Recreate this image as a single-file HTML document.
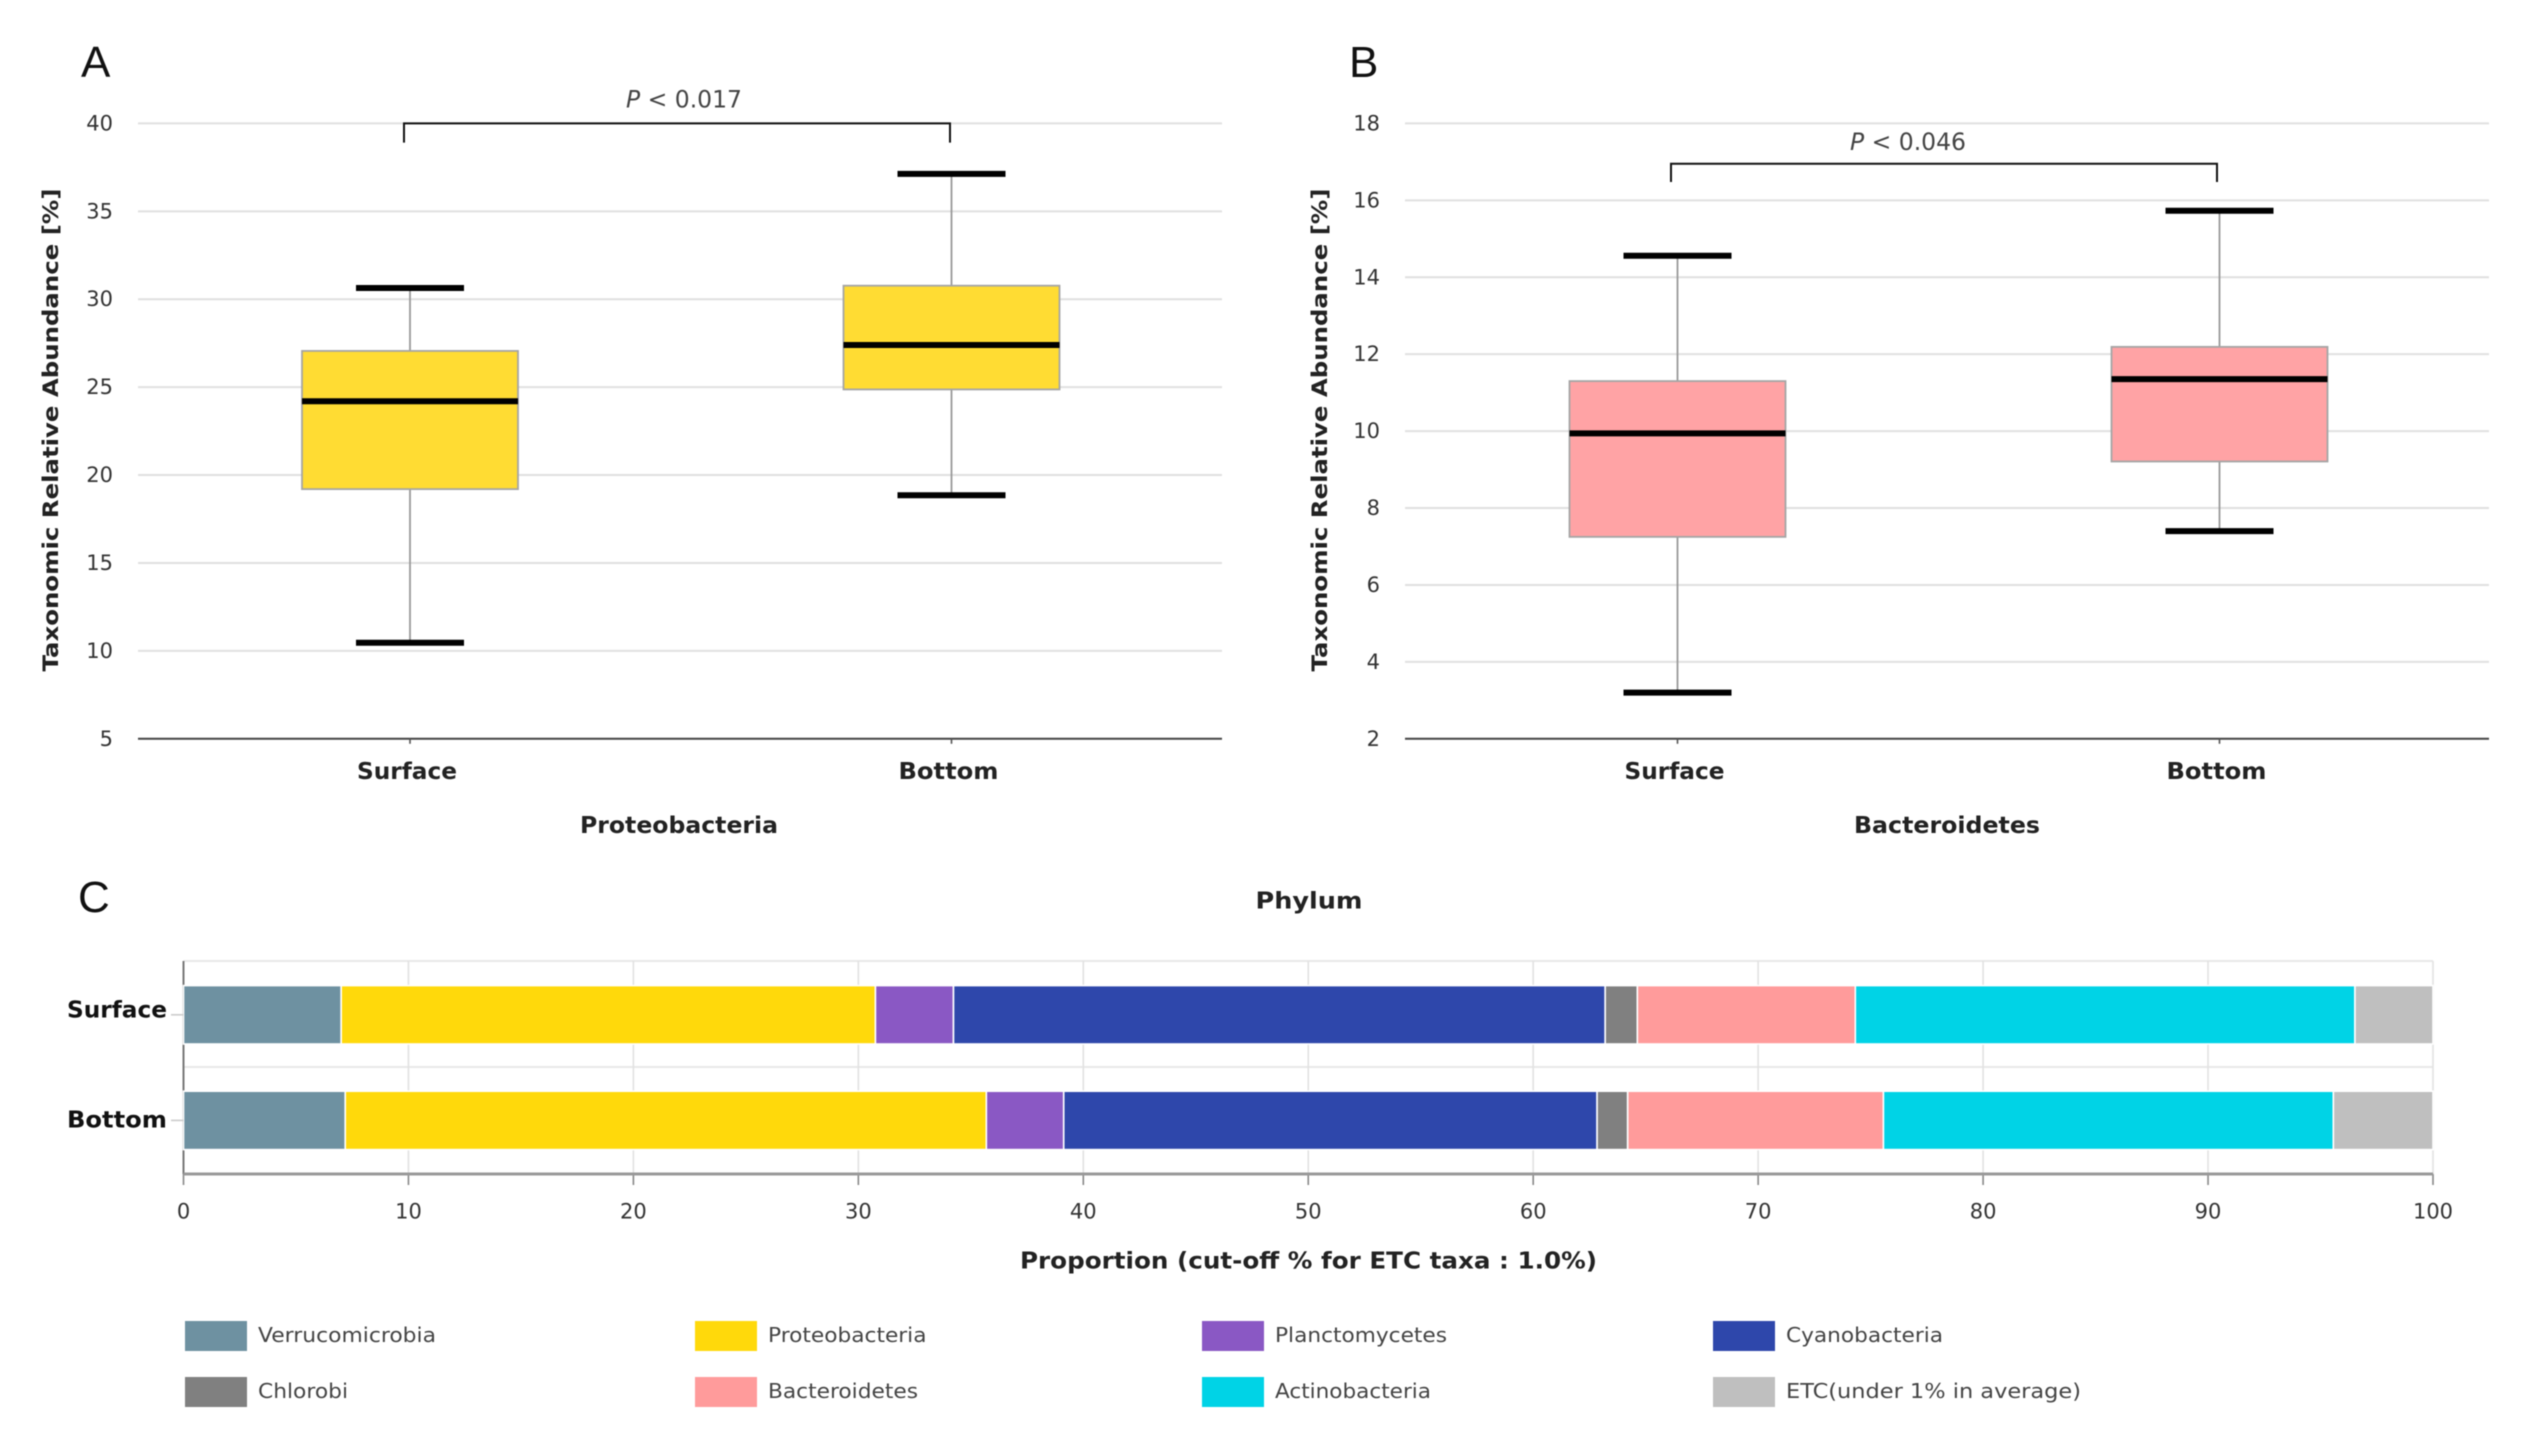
<!DOCTYPE html>
<html lang="en">
<head>
<meta charset="utf-8">
<title>Taxonomic relative abundance</title>
<style>
html,body{margin:0;padding:0;background:#fff;width:2524px;height:1441px;overflow:hidden}
svg{display:block;filter:blur(0.5px)}
text{font-family:"DejaVu Sans","Liberation Sans",sans-serif}
.plabel{font-family:"Liberation Sans",sans-serif;font-size:44px;fill:#111}
</style>
</head>
<body>
<svg id="figure" xmlns="http://www.w3.org/2000/svg" width="2524" height="1441" viewBox="0 0 2524 1441">
  <rect x="0" y="0" width="2524" height="1441" fill="#ffffff"/>
  <text class="plabel" x="81" y="77">A</text>
  <text class="plabel" x="1349" y="77">B</text>
  <text class="plabel" x="78" y="912">C</text>
  <g id="panelA"></g>
  <g id="panelB"></g>
  <g id="panelC"></g>
  <g id="legend"></g>
</svg>
<script>
// ---- Data ----
const boxCategories = ['Surface', 'Bottom'];

const proteoTicks = [5, 10, 15, 20, 25, 30, 35, 40];
const proteoLow = [10.46, 18.85];
const proteoQ1 = [19.2, 24.87];
const proteoMedian = [24.2, 27.4];
const proteoQ3 = [27.06, 30.77];
const proteoHigh = [30.64, 37.13];

const bacteroTicks = [2, 4, 6, 8, 10, 12, 14, 16, 18];
const bacteroLow = [3.2, 7.4];
const bacteroQ1 = [7.25, 9.21];
const bacteroMedian = [9.94, 11.35];
const bacteroQ3 = [11.3, 12.19];
const bacteroHigh = [14.56, 15.73];

const barCategories = ['Surface', 'Bottom'];
const phylumNames = ['Verrucomicrobia', 'Proteobacteria', 'Planctomycetes', 'Cyanobacteria', 'Chlorobi', 'Bacteroidetes', 'Actinobacteria', 'ETC(under 1% in average)'];
const phylumColors = ['#6e91a1', '#ffd90b', '#8a58c4', '#2e47ab', '#808080', '#ff9b9b', '#00d3e6', '#bfbfbf'];
const surfaceShares = [7.01, 23.75, 3.47, 28.97, 1.43, 9.69, 22.21, 3.47];
const bottomShares = [7.19, 28.5, 3.44, 23.71, 1.36, 11.37, 20.0, 4.43];
const proportionTicks = [0, 10, 20, 30, 40, 50, 60, 70, 80, 90, 100];

// ---- Helpers ----
const NS = 'http://www.w3.org/2000/svg';
function make(tag, parent, props) {
  const el = document.createElementNS(NS, tag);
  for (const k in props) el.setAttribute(k, props[k]);
  parent.appendChild(el);
  return el;
}
function linear(d0, d1, r0, r1) {
  return function (v) { return r0 + (v - d0) * (r1 - r0) / (d1 - d0); };
}

// ---- Box plots ----
function drawBoxPlot(cfg) {
  const g = document.getElementById(cfg.id);
  const y = linear(cfg.ticks[0], cfg.ticks[cfg.ticks.length - 1], cfg.bottom, cfg.top);
  const x = function (i) { return cfg.cx0 + i * (cfg.cx1 - cfg.cx0); };

  cfg.ticks.forEach(function (t, i) {
    if (i > 0) {
      const grid = make('line', g, { x1: cfg.left, x2: cfg.right, y1: y(t), y2: y(t), stroke: '#e0e0e0', 'stroke-width': 2 });
      
      
    }
    const lab = make('text', g, { x: cfg.left - 25, y: y(t) + 7, 'text-anchor': 'end', 'font-size': 21, fill: '#333' });
    lab.textContent = t;
    
    
  });

  const axis = make('line', g, { x1: cfg.left, x2: cfg.right, y1: cfg.bottom, y2: cfg.bottom, stroke: '#444', 'stroke-width': 2 });
  
  

  boxCategories.forEach(function (cat, i) {
    const cx = x(i);
    const tick = make('line', g, { x1: cx, x2: cx, y1: cfg.bottom, y2: cfg.bottom + 5, stroke: '#555', 'stroke-width': 1.6 });
    
    

    const lab = make('text', g, { x: cx - 3, y: 779, 'text-anchor': 'middle', 'font-size': 23, 'font-weight': 'bold', fill: '#222', textLength: 100, lengthAdjust: 'spacingAndGlyphs' });
    lab.textContent = cat;
    
    

    const whisk = make('line', g, { x1: cx, x2: cx, y1: y(cfg.high[i]), y2: y(cfg.low[i]), stroke: '#999', 'stroke-width': 1.8 });
    
    

    const box = make('rect', g, { x: cx - 108, width: 216, y: y(cfg.q3[i]), height: y(cfg.q1[i]) - y(cfg.q3[i]), fill: cfg.fill, stroke: '#a5a5a5', 'stroke-width': 1.8 });
    
    

    const med = make('line', g, { x1: cx - 108, x2: cx + 108, y1: y(cfg.median[i]), y2: y(cfg.median[i]), stroke: '#000', 'stroke-width': 6 });
    
    

    const capHi = make('line', g, { x1: cx - 54, x2: cx + 54, y1: y(cfg.high[i]), y2: y(cfg.high[i]), stroke: '#000', 'stroke-width': 6 });
    
    

    const capLo = make('line', g, { x1: cx - 54, x2: cx + 54, y1: y(cfg.low[i]), y2: y(cfg.low[i]), stroke: '#000', 'stroke-width': 6 });
    
    
  });

  const br = make('path', g, { d: 'M' + cfg.br0 + ' ' + cfg.brBottom + 'V' + cfg.brTop + 'H' + cfg.br1 + 'V' + cfg.brBottom, fill: 'none', stroke: '#111', 'stroke-width': 2 });
  
  

  const pt = make('text', g, { x: cfg.pX, y: cfg.pY, 'font-size': 24, fill: '#444', textLength: 116, lengthAdjust: 'spacingAndGlyphs' });
  
  
  const it = make('tspan', pt, { 'font-style': 'italic' });
  it.textContent = 'P';
  
  
  pt.appendChild(document.createTextNode(' < ' + cfg.pText));

  const yt = make('text', g, { transform: 'translate(' + cfg.yTitleX + ' 430) rotate(-90)', 'text-anchor': 'middle', 'font-size': 21, 'font-weight': 'bold', fill: '#222', textLength: 483, lengthAdjust: 'spacingAndGlyphs' });
  yt.textContent = 'Taxonomic Relative Abundance [%]';
  
  

  const xt = make('text', g, { x: cfg.xTitleX, y: 833, 'text-anchor': 'middle', 'font-size': 23, 'font-weight': 'bold', fill: '#222', textLength: cfg.xTitleW, lengthAdjust: 'spacingAndGlyphs' });
  xt.textContent = cfg.xTitle;
  
  
}

drawBoxPlot({
  id: 'panelA', ticks: proteoTicks, low: proteoLow, q1: proteoQ1, median: proteoMedian, q3: proteoQ3, high: proteoHigh,
  fill: '#ffdc33', top: 123.4, bottom: 738.8, left: 138, right: 1222, cx0: 410, cx1: 951.5,
  br0: 404, br1: 950, brTop: 123.4, brBottom: 142.6, pX: 626, pY: 107.5, pText: '0.017',
  yTitleX: 58, xTitle: 'Proteobacteria', xTitleX: 679, xTitleW: 198
});
drawBoxPlot({
  id: 'panelB', ticks: bacteroTicks, low: bacteroLow, q1: bacteroQ1, median: bacteroMedian, q3: bacteroQ3, high: bacteroHigh,
  fill: '#ffa3a5', top: 123.4, bottom: 738.8, left: 1405, right: 2489, cx0: 1677.5, cx1: 2219.5,
  br0: 1671, br1: 2217, brTop: 163.8, brBottom: 182, pX: 1850, pY: 150, pText: '0.046',
  yTitleX: 1327, xTitle: 'Bacteroidetes', xTitleX: 1947, xTitleW: 186
});

// ---- Stacked bars ----
(function () {
  const g = document.getElementById('panelC');
  const left = 183.5, right = 2433, top = 961, mid = 1067, bottom = 1174;
  const x = linear(0, 100, left, right);
  const barSeries = [surfaceShares, bottomShares];
  const barTop = [985.6, 1091.2];
  const barHeight = 58.4;
  const labelBaseline = [1017.5, 1127.5];

  const title = make('text', g, { x: 1309, y: 908.5, 'text-anchor': 'middle', 'font-size': 23, 'font-weight': 'bold', fill: '#222', textLength: 107, lengthAdjust: 'spacingAndGlyphs' });
  title.textContent = 'Phylum';
  
  

  [top, mid].forEach(function (yy, i) {
    const h = make('line', g, { x1: left, x2: right, y1: yy, y2: yy, stroke: '#e8e8e8', 'stroke-width': 2 });
    
    
  });

  proportionTicks.forEach(function (t) {
    const v = make('line', g, { x1: x(t), x2: x(t), y1: top, y2: bottom, stroke: '#e2e2e2', 'stroke-width': 1.6 });
    
    
    const tk = make('line', g, { x1: x(t), x2: x(t), y1: bottom, y2: 1185, stroke: '#888', 'stroke-width': 1.6 });
    
    
    const lab = make('text', g, { x: x(t), y: 1218.5, 'text-anchor': 'middle', 'font-size': 21, fill: '#333' });
    lab.textContent = t;
    
    
  });

  const yAxis = make('line', g, { x1: left, x2: left, y1: top, y2: bottom, stroke: '#777', 'stroke-width': 2 });
  
  

  const xAxis = make('line', g, { x1: left, x2: right, y1: bottom, y2: bottom, stroke: '#999', 'stroke-width': 3 });
  
  

  barCategories.forEach(function (cat, r) {
    let cum = 0;
    barSeries[r].forEach(function (share, s) {
      const seg = make('rect', g, { x: x(cum), y: barTop[r], width: x(cum + share) - x(cum), height: barHeight, fill: phylumColors[s], stroke: '#ffffff', 'stroke-width': 1.6 });
      
      
      cum += share;
    });
    const tk = make('line', g, { x1: 171, x2: left, y1: barTop[r] + barHeight / 2, y2: barTop[r] + barHeight / 2, stroke: '#ccc', 'stroke-width': 1.6 });
    
    
    const lab = make('text', g, { x: 167, y: labelBaseline[r], 'text-anchor': 'end', 'font-size': 23, 'font-weight': 'bold', fill: '#111', textLength: 100, lengthAdjust: 'spacingAndGlyphs' });
    lab.textContent = cat;
    
    
  });

  const xt = make('text', g, { x: 1308.5, y: 1268.5, 'text-anchor': 'middle', 'font-size': 23, 'font-weight': 'bold', fill: '#222', textLength: 577, lengthAdjust: 'spacingAndGlyphs' });
  xt.textContent = 'Proportion (cut-off % for ETC taxa : 1.0%)';
  
  
})();

// ---- Legend ----
(function () {
  const g = document.getElementById('legend');
  const swatchX = [185, 695, 1202, 1713];
  const swatchY = [1321, 1377];
  const labelW = [178, 158.5, 172, 157, 90, 150, 156, 295];
  phylumNames.forEach(function (name, i) {
    const col = i % 4, row = Math.floor(i / 4);
    const entry = make('g', g, {});
    
    
    const sw = make('rect', entry, { x: swatchX[col], y: swatchY[row], width: 62, height: 30, fill: phylumColors[i] });
    
    
    const t = make('text', entry, { x: swatchX[col] + 73, y: swatchY[row] + 21, 'font-size': 20, fill: '#444', textLength: labelW[i], lengthAdjust: 'spacingAndGlyphs' });
    t.textContent = name;
    
    
  });
})();
</script>
</body>
</html>
